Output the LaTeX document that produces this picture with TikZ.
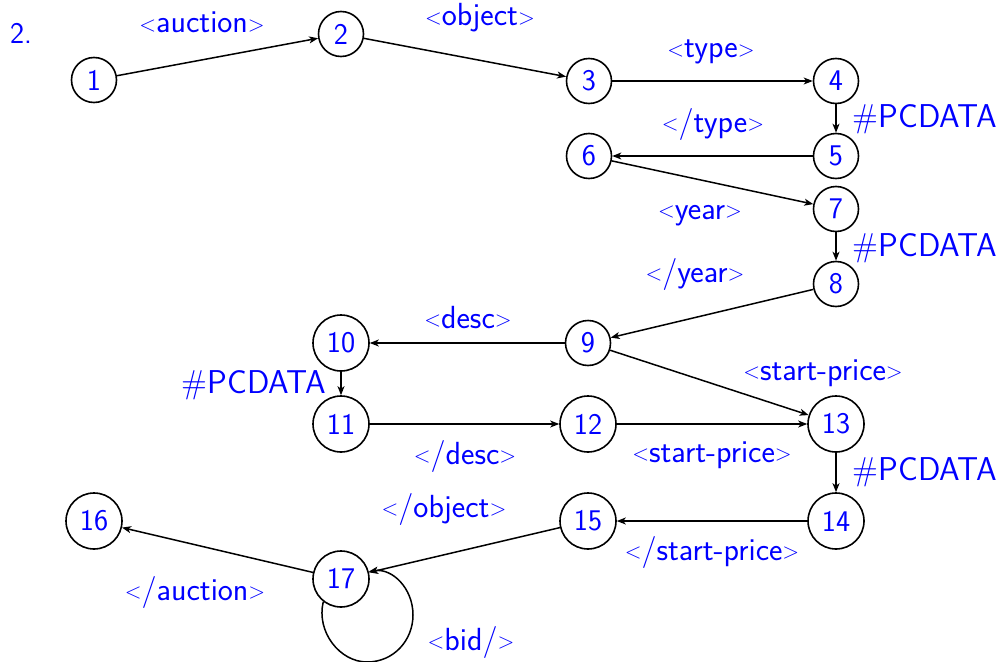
\documentclass[tikz,border=0pt]{standalone}
\usepackage{fontspec}
\usetikzlibrary{arrows.meta}
% small angle brackets for the tag labels
\newcommand\lta{{\fontsize{22}{22}\selectfont\raisebox{1.5pt}{\textless}}}
\newcommand\gta{{\fontsize{22}{22}\selectfont\raisebox{1.5pt}{\textgreater}}}
\begin{document}
\begin{tikzpicture}[x=1pt,y=-1pt,
  txt/.style={text=blue,font=\sffamily\fontsize{30}{30}\selectfont},
  state/.style={txt,circle,draw=black,line width=1.6pt,inner sep=0pt,minimum size=45pt},
  wstate/.style={state,minimum size=56pt},
  num/.style={txt,inner sep=0pt,anchor=base},
  lbl/.style={num,font=\sffamily\fontsize{32}{32}\selectfont},
  pc/.style={num,font=\sffamily\fontsize{33}{33}\selectfont},
  edge/.style={-{Stealth[length=9pt,width=7pt,inset=2.5pt]},line width=1.5pt}]
\useasboundingbox (0,0) rectangle (998,661);

% states
\node[state]  (n1)  at (94,80)   {1};
\node[state]  (n2)  at (341,34)  {2};
\node[state]  (n3)  at (589,81)  {3};
\node[state]  (n4)  at (836,81)  {4};
\node[state]  (n5)  at (836,156) {5};
\node[state]  (n6)  at (589,156) {6};
\node[state]  (n7)  at (836,209) {7};
\node[state]  (n8)  at (836,284) {8};
\node[state]  (n9)  at (588,343) {9};
\node[wstate] (n10) at (341,343) {10};
\node[wstate] (n11) at (341,424) {11};
\node[wstate] (n12) at (588,424) {12};
\node[wstate] (n13) at (836,424) {13};
\node[wstate] (n14) at (836,521) {14};
\node[wstate] (n15) at (588,521) {15};
\node[wstate] (n16) at (94,521)  {16};
\node[wstate] (n17) at (341,579) {17};

% transitions
\draw[edge] (n1) -- (n2);
\draw[edge] (n2) -- (n3);
\draw[edge] (n3) -- (n4);
\draw[edge] (n4) -- (n5);
\draw[edge] (n5) -- (n6);
\draw[edge] (n6) -- (n7);
\draw[edge] (n7) -- (n8);
\draw[edge] (n8) -- (n9);
\draw[edge] (n9) -- (n10);
\draw[edge] (n10) -- (n11);
\draw[edge] (n11) -- (n12);
\draw[edge] (n12) -- (n13);
\draw[edge] (n9) -- (n13);
\draw[edge] (n13) -- (n14);
\draw[edge] (n14) -- (n15);
\draw[edge] (n15) -- (n17);
\draw[edge] (n17) -- (n16);
\draw[edge] (n17.232) .. controls (316,632) and (340,662) .. (367,662)
  .. controls (394,662) and (413,640) .. (413,615)
  .. controls (413,588) and (392,568) .. (n17.15);

% labels
\node[num] (t0)  at (21,44)   {2.};
\node[lbl] (l1)  at (202,33)  {\lta auction\gta};
\node[lbl] (l2)  at (480,26)  {\lta object\gta};
\node[lbl] (l3)  at (711,58)  {\lta type\gta};
\node[pc]  (p1)  at (925,127) {\#PCDATA};
\node[lbl] (l4)  at (713,132) {\lta/type\gta};
\node[lbl] (l5)  at (700,219) {\lta year\gta};
\node[pc]  (p2)  at (925,256) {\#PCDATA};
\node[lbl] (l6)  at (695,282) {\lta/year\gta};
\node[lbl] (l7)  at (468,328) {\lta desc\gta};
\node[pc]  (p3)  at (254,393) {\#PCDATA};
\node[lbl] (l8)  at (465,464) {\lta/desc\gta};
\node[lbl] (l9)  at (823,380) {\lta start-price\gta};
\node[lbl] (l10) at (712,462) {\lta start-price\gta};
\node[pc]  (p4)  at (925,480) {\#PCDATA};
\node[lbl] (l11) at (444,517) {\lta/object\gta};
\node[lbl] (l12) at (712,560) {\lta/start-price\gta};
\node[lbl] (l13) at (195,600) {\lta/auction\gta};
\node[lbl] (l14) at (471,650) {\lta bid/\gta};
\end{tikzpicture}
\end{document}
